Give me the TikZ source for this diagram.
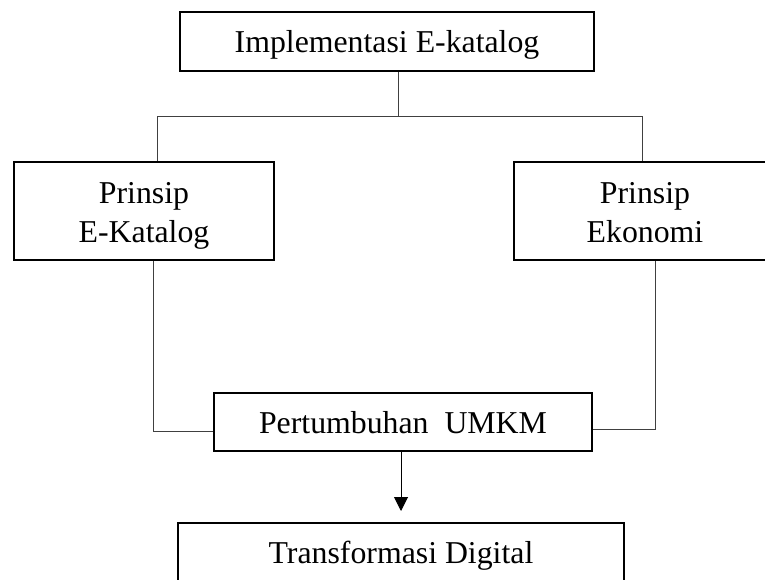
\documentclass[tikz,border=0pt]{standalone}
\usepackage{fontspec}
\setmainfont{Liberation Serif}
\usetikzlibrary{arrows.meta}
\newcommand\mystrut{\rule[-7pt]{0pt}{37pt}}
\begin{document}
\begin{tikzpicture}[x=1pt,y=-1pt,
  box/.style={draw=black,line width=2pt,inner sep=0pt,align=center,
    font=\fontsize{31.8}{39}\selectfont},
  conn/.style={draw=black!75,line width=1pt},
  arr/.style={draw=black,line width=1pt,-{Triangle[length=14pt,width=14pt]}}]
\useasboundingbox (0,0) rectangle (765,580);
\node[box,minimum width=414pt,minimum height=59pt] (top) at (387,41.5) {\mystrut Implementasi E-katalog};
\node[box,minimum width=260pt,minimum height=98pt] (left) at (144,211) {\mystrut Prinsip\\\mystrut E-Katalog};
\node[box,minimum width=262pt,minimum height=98pt] (right) at (645,211) {\mystrut Prinsip\\\mystrut Ekonomi};
\node[box,minimum width=378pt,minimum height=58pt] (pert) at (403,422) {\mystrut Pertumbuhan\ \ UMKM};
\node[box,minimum width=446pt,minimum height=66pt] (bot) at (401,556) {Transformasi Digital};
\coordinate (j) at (398,117);
\coordinate (jl) at (157,117);
\coordinate (jr) at (642,117);
\coordinate (cl) at (153,431);
\coordinate (cr) at (655,429);
\draw[conn] (top.south -| j) -- (j);
\draw[conn] (jl |- left.north) -- (jl) -- (jr) -- (jr |- right.north);
\draw[conn] (cl |- left.south) -- (cl) -- (cl -| pert.west);
\draw[conn] (cr |- right.south) -- (cr) -- (cr -| pert.east);
\draw[arr] (pert.south -| 401,0) -- ([yshift=11pt]bot.north -| 401,0);
\end{tikzpicture}
\end{document}
